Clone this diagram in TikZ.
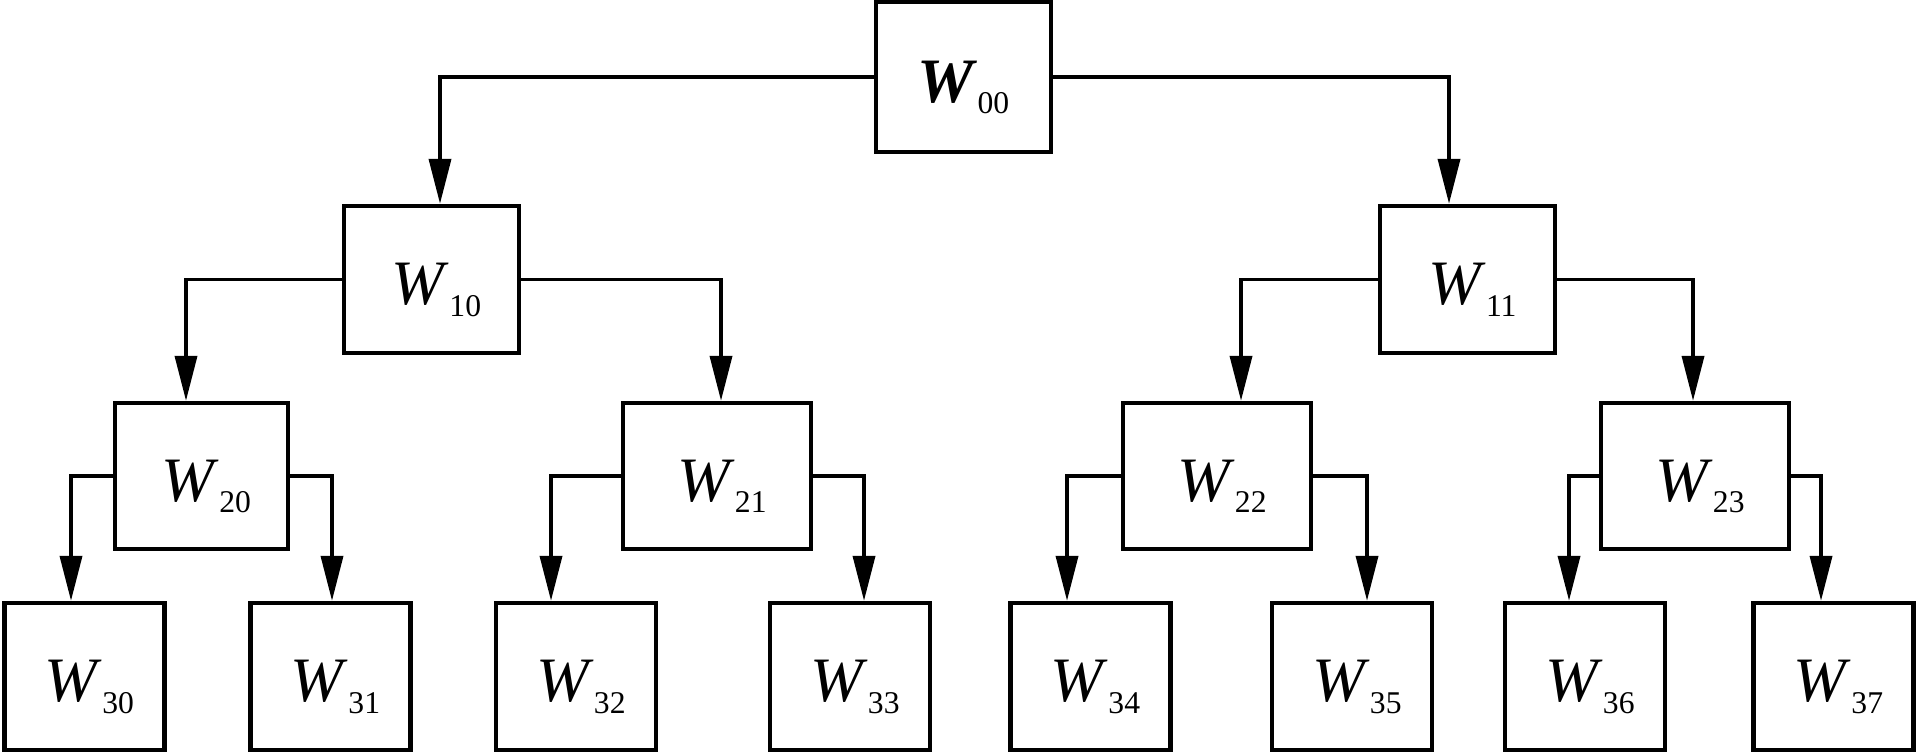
\documentclass[tikz,border=0pt]{standalone}
\usepackage{fontspec}
\setmainfont{Liberation Serif}
\usetikzlibrary{arrows.meta, calc}
\tikzset{
    % Box styles - plain black frames
    wbox/.style={
        rectangle,
        draw=black,
        line width=1.25pt,
        inner sep=0pt,
        minimum height=1.47cm,
        text height=14.4pt,
        text depth=0pt,
        align=center,
        font=\fontsize{18}{18}\selectfont
    },
    rootbox/.style={
        wbox,
        minimum width=1.75cm,
        minimum height=1.50cm
    },
    levelbox/.style={
        wbox,
        minimum width=1.75cm
    },
    widebox/.style={
        wbox,
        minimum width=1.88cm,
        minimum height=1.46cm
    },
    leafbox/.style={
        wbox,
        minimum width=1.60cm
    },
    % Arrow style - elbow connectors
    arrow/.style={
        -{Triangle[length=0.45cm, width=0.22cm]},
        line width=1.05pt,
        draw=black
    }
}
\newcommand{\wsub}[1]{\hspace{0.1cm}\textit{W}\raisebox{-3.3pt}{\fontsize{9}{9}\selectfont #1}}

\begin{document}
\begin{tikzpicture}
    \useasboundingbox (0,0) rectangle (19.18,-7.55);

    % Root
    \node[rootbox] (w00) at (9.635,-0.77) {\textbf{\textit{W}}\raisebox{-3.3pt}{\fontsize{9}{9}\selectfont 00}};

    % First level
    \node[levelbox] (w10) at (4.315,-2.795) {\wsub{10}};
    \node[levelbox] (w11) at (14.675,-2.795) {\wsub{11}};

    % Second level
    \node[widebox, minimum width=1.73cm] (w20) at (2.015,-4.76) {\wsub{20}};
    \node[widebox] (w21) at (7.17,-4.76) {\wsub{21}};
    \node[widebox] (w22) at (12.17,-4.76) {\wsub{22}};
    \node[widebox] (w23) at (16.95,-4.76) {\wsub{23}};

    % Leaves
    \node[leafbox] (w30) at (0.845,-6.765) {\wsub{30}};
    \node[leafbox] (w31) at (3.305,-6.765) {\wsub{31}};
    \node[leafbox] (w32) at (5.76,-6.765) {\wsub{32}};
    \node[leafbox] (w33) at (8.50,-6.765) {\wsub{33}};
    \node[leafbox] (w34) at (10.905,-6.765) {\wsub{34}};
    \node[leafbox] (w35) at (13.52,-6.765) {\wsub{35}};
    \node[leafbox] (w36) at (15.85,-6.765) {\wsub{36}};
    \node[leafbox] (w37) at (18.335,-6.765) {\wsub{37}};

    % Root to first level
    \draw[arrow] (w00.west) -| ($(w10.north)+(0.085,0)$);
    \draw[arrow] (w00.east) -| ($(w11.north)+(-0.185,0)$);

    % First to second level
    \draw[arrow] (w10.west) -| ($(w20.north)+(-0.155,0)$);
    \draw[arrow] (w10.east) -| ($(w21.north)+(0.04,0)$);
    \draw[arrow] (w11.west) -| ($(w22.north)+(0.24,0)$);
    \draw[arrow] (w11.east) -| ($(w23.north)+(-0.02,0)$);

    % Second level to leaves
    \draw[arrow] (w20.west) -| ($(w30.north)+(-0.135,0)$);
    \draw[arrow] (w20.east) -| ($(w31.north)+(0.015,0)$);
    \draw[arrow] (w21.west) -| ($(w32.north)+(-0.25,0)$);
    \draw[arrow] (w21.east) -| ($(w33.north)+(0.14,0)$);
    \draw[arrow] (w22.west) -| ($(w34.north)+(-0.235,0)$);
    \draw[arrow] (w22.east) -| ($(w35.north)+(0.15,0)$);
    \draw[arrow] (w23.west) -| ($(w36.north)+(-0.16,0)$);
    \draw[arrow] (w23.east) -| ($(w37.north)+(-0.125,0)$);
\end{tikzpicture}
\end{document}
